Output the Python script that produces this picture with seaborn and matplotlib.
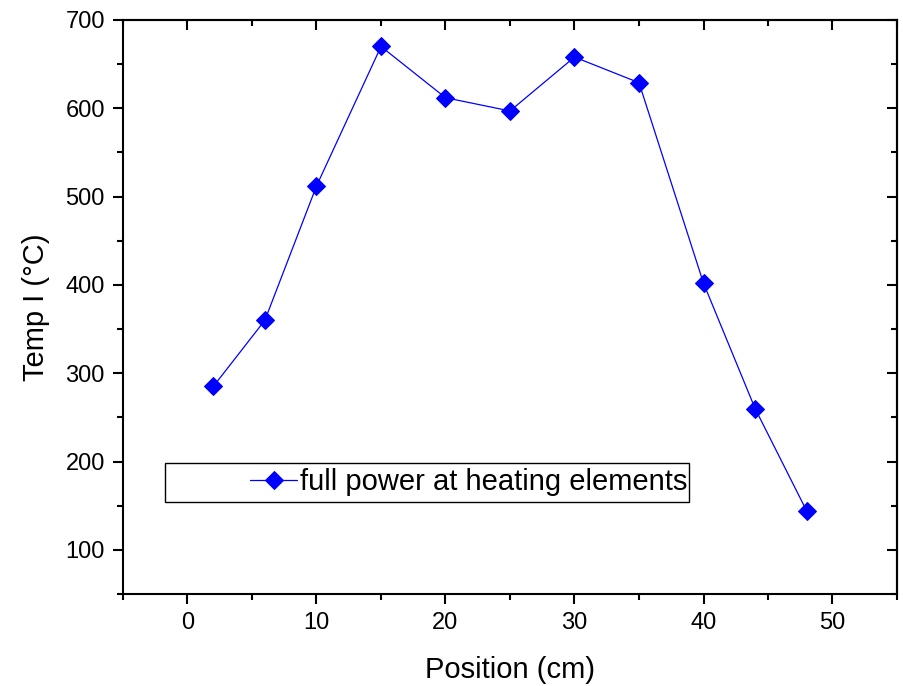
import matplotlib
matplotlib.use("Agg")
import matplotlib.pyplot as plt
from matplotlib.ticker import MultipleLocator
from matplotlib.patches import Rectangle
import seaborn as sns
import pandas as pd

position = [2, 6, 10, 15, 20, 25, 30, 35, 40, 44, 48]
temp = [285, 360, 512, 670, 612, 597, 658, 629, 402, 260, 144]
series_label = "full power at heating elements"

sns.set_style("ticks")
plt.rcParams['font.family'] = ['Liberation Sans', 'DejaVu Sans']
plt.rcParams['text.color'] = 'black'
plt.rcParams['axes.labelcolor'] = 'black'
plt.rcParams['xtick.color'] = 'black'
plt.rcParams['ytick.color'] = 'black'

df = pd.DataFrame({"Position (cm)": position, "Temp I (°C)": temp})

fig = plt.figure(figsize=(9.04, 6.86), dpi=100)
ax = fig.add_axes([123/904, 1-594/686, 774/904, 574/686])

sns.lineplot(data=df, x="Position (cm)", y="Temp I (°C)", ax=ax, color="#0000ff",
             marker="D", markersize=9, markeredgecolor="#0000ff", linewidth=0.9,
             label=series_label)

ax.set_xlim(-5, 55)
ax.set_ylim(50, 700)
ax.xaxis.set_major_locator(MultipleLocator(10))
ax.xaxis.set_minor_locator(MultipleLocator(5))
ax.yaxis.set_major_locator(MultipleLocator(100))
ax.yaxis.set_minor_locator(MultipleLocator(50))

for s in ax.spines.values():
    s.set_visible(True)
    s.set_linewidth(1.5)
    s.set_color("black")

ax.tick_params(axis="both", which="major", direction="out", length=7, width=1.5,
               labelsize=17, colors="black", pad=6)
ax.tick_params(axis="both", which="minor", direction="out", length=4, width=1.5)
ax.tick_params(axis="x", which="both", top=False)
ax.tick_params(axis="y", which="both", right=False)
secx = ax.secondary_xaxis("top")
secx.xaxis.set_major_locator(MultipleLocator(10))
secx.xaxis.set_minor_locator(MultipleLocator(5))
secx.tick_params(which="major", direction="in", length=7, width=1.5, labeltop=False)
secx.tick_params(which="minor", direction="in", length=4, width=1.5)
secx.spines["top"].set_linewidth(1.5)
secy = ax.secondary_yaxis("right")
secy.yaxis.set_major_locator(MultipleLocator(100))
secy.yaxis.set_minor_locator(MultipleLocator(50))
secy.tick_params(which="major", direction="in", length=7, width=1.5, labelright=False)
secy.tick_params(which="minor", direction="in", length=4, width=1.5)
secy.spines["right"].set_linewidth(1.5)

ax.set_xlabel("Position (cm)", fontsize=21, labelpad=16)
ax.set_ylabel("Temp I (°C)", fontsize=21, labelpad=11)

# legend box
x0 = (165-123)/774
x1 = (689-123)/774
y0 = (594-502)/574
y1 = (594-463)/574
ax.add_patch(Rectangle((x0, y0), x1-x0, y1-y0, transform=ax.transAxes,
                       facecolor="white", edgecolor="black", linewidth=1.0, zorder=4))
leg = ax.legend(loc="center right", bbox_to_anchor=(x1 - 0.002, (y0+y1)/2),
                frameon=False, fontsize=21, borderpad=0, borderaxespad=0,
                handlelength=1.6, handletextpad=0.1)
leg.set_zorder(5)
for t in leg.get_texts():
    t.set_color("black")

fig.savefig("out.png", dpi=100)
